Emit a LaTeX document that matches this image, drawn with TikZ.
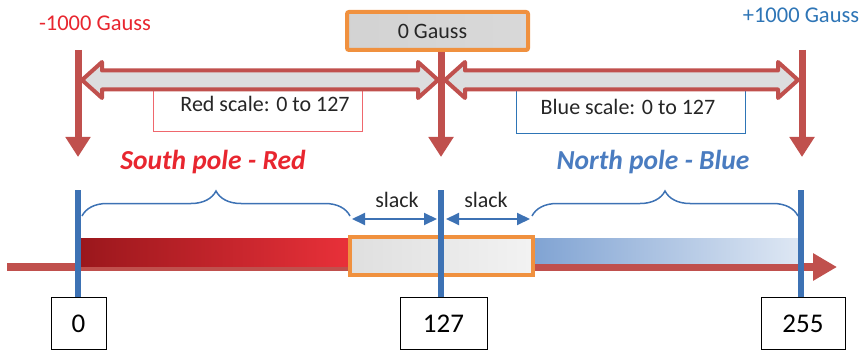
\documentclass[tikz,border=0pt]{standalone}
\usepackage{fontspec}
\setmainfont{Carlito}
\usetikzlibrary{arrows.meta,decorations.pathreplacing,calc}

\definecolor{axred}{HTML}{C0504D}
\definecolor{txtred}{HTML}{E8262F}
\definecolor{txtblue}{HTML}{2E75B6}
\definecolor{lineblue}{HTML}{3D72B4}
\definecolor{boxorange}{HTML}{F0913F}
\definecolor{poleblue}{HTML}{4A7CC0}
\definecolor{arrowfill}{HTML}{DCDDDE}
\definecolor{darkred}{HTML}{9A171C}

\tikzset{
  fs/.style={font=\fontsize{#1}{#1}\selectfont},
  downarrow/.style={axred, line width=7pt, -{Triangle[width=24pt,length=20pt]}},
  tick/.style={lineblue, line width=6pt},
  blockarrow/.style={draw=axred, fill=arrowfill, line width=4pt, line join=round},
  scalebox/.style={line width=0.8pt, fill=white},
  numbox/.style={draw=black, line width=0.8pt, fill=white, fs=27, inner sep=0pt},
  bracket/.style={lineblue, line width=1.5pt, decorate, decoration={brace, amplitude=25pt}},
  slackarrow/.style={lineblue, line width=2pt, {Triangle[width=12pt,length=13pt]}-{Triangle[width=12pt,length=13pt]}},
  pole/.style={font=\fontsize{27.5}{27.5}\selectfont\bfseries\itshape, inner sep=0pt},
  label/.style={fs=22, inner sep=0pt, text=black!85},
}

% double-headed block arrow between two tip points
\newcommand{\dblarrow}[2]{%
  \draw[blockarrow] (#1) -- ++(20,-18) -- ++(0,8.5) -- ($(#2)+(-20,-9.5)$)
    -- ++(0,-8.5) -- (#2) -- ++(-20,18) -- ++(0,-8.5)
    -- ($(#1)+(20,9.5)$) -- ++(0,8.5) -- cycle;}

\begin{document}
\begin{tikzpicture}[x=1pt,y=-1pt]
\useasboundingbox (0,0) rectangle (867,350);

% field labels
\node[fs=22.5, text=txtred, inner sep=0pt] (gmin) at (95,23) {-1000 Gauss};
\node[fs=22.5, text=txtblue, inner sep=0pt] (gmax) at (801,15) {+1000 Gauss};
\shade[left color=gray!35, middle color=gray!15, right color=gray!30]
  (347,12) rectangle (528,50);
\node[draw=boxorange, line width=4pt, rounded corners=2pt, fs=22,
      minimum width=181pt, minimum height=38pt, inner sep=0pt, text=black!85]
  (gzero) at (437.5,31) {\hspace*{-10pt}0 Gauss};

% scale boxes (partly hidden behind the block arrows)
\draw[scalebox, draw=txtred!70] (153,88) rectangle (362,131);
\node[label] (redscale) at (265,104) {Red scale: 0 to 127};
\draw[scalebox, draw=txtblue] (516,88) rectangle (745,133);
\node[label] (bluescale) at (628,107) {Blue scale: 0 to 127};

% span arrows
\coordinate (la) at (82,80);
\coordinate (lb) at (438,80);
\coordinate (ra) at (445,80);
\coordinate (rb) at (798,80);
\dblarrow{la}{lb}
\dblarrow{ra}{rb}

% downward field arrows
\coordinate (dl) at (78,50);
\coordinate (dr) at (802,50);
\coordinate (el) at (78,157);
\coordinate (em) at (441,157);
\coordinate (er) at (802,157);
\draw[downarrow] (dl) -- (el);
\draw[downarrow] (gzero.south -| em) -- (em);
\draw[downarrow] (dr) -- (er);

% pole names
\node[pole, text=txtred] (south) at (213,162) {South pole - Red};
\node[pole, text=poleblue] (north) at (653,162) {North pole - Blue};

% value axis
\coordinate (ax0) at (7,267);
\coordinate (ax1) at (837,267);
\draw[axred, line width=8pt, -{Triangle[width=26pt,length=24pt]}] (ax0) -- (ax1);

% colour bars
\shade[left color=darkred, middle color=txtred, right color=txtred!95!white]
  (79,238) rectangle (352,266);
\shade[left color=poleblue!70, right color=poleblue!18]
  (533,238) rectangle (800,263);
\shade[left color=gray!25, right color=gray!10, draw=boxorange, line width=3.5pt]
  (350,237) rectangle (533,275);

% value boxes
\node[numbox, minimum width=55pt, minimum height=52pt, anchor=north] (n0) at (78.5,297) {0};
\node[numbox, minimum width=87pt, minimum height=52pt, anchor=north] (n127) at (443.5,297) {127};
\node[numbox, minimum width=84pt, minimum height=52pt, anchor=north] (n255) at (803,297) {255};

% tick lines
\coordinate (t0) at (78,190);
\coordinate (t1) at (441,190);
\coordinate (t2) at (801,190);
\draw[tick] (t0) -- (t0 |- n0.north);
\draw[tick] (t1) -- (t1 |- n127.north);
\draw[tick] (t2) -- (t2 |- n255.north);

% braces over the coloured ranges
\coordinate (b0) at (82,216);
\coordinate (b1) at (350,216);
\coordinate (b2) at (532,216);
\coordinate (b3) at (798,216);
\draw[bracket] (b0) -- (b1);
\draw[bracket] (b2) -- (b3);

% slack margins
\coordinate (s0) at (352,219);
\coordinate (s1) at (437,219);
\coordinate (s2) at (446,219);
\coordinate (s3) at (530,219);
\draw[slackarrow] (s0) -- (s1);
\draw[slackarrow] (s2) -- (s3);
\node[label] (slackl) at (397,200) {slack};
\node[label] (slackr) at (486,200) {slack};
\end{tikzpicture}
\end{document}
